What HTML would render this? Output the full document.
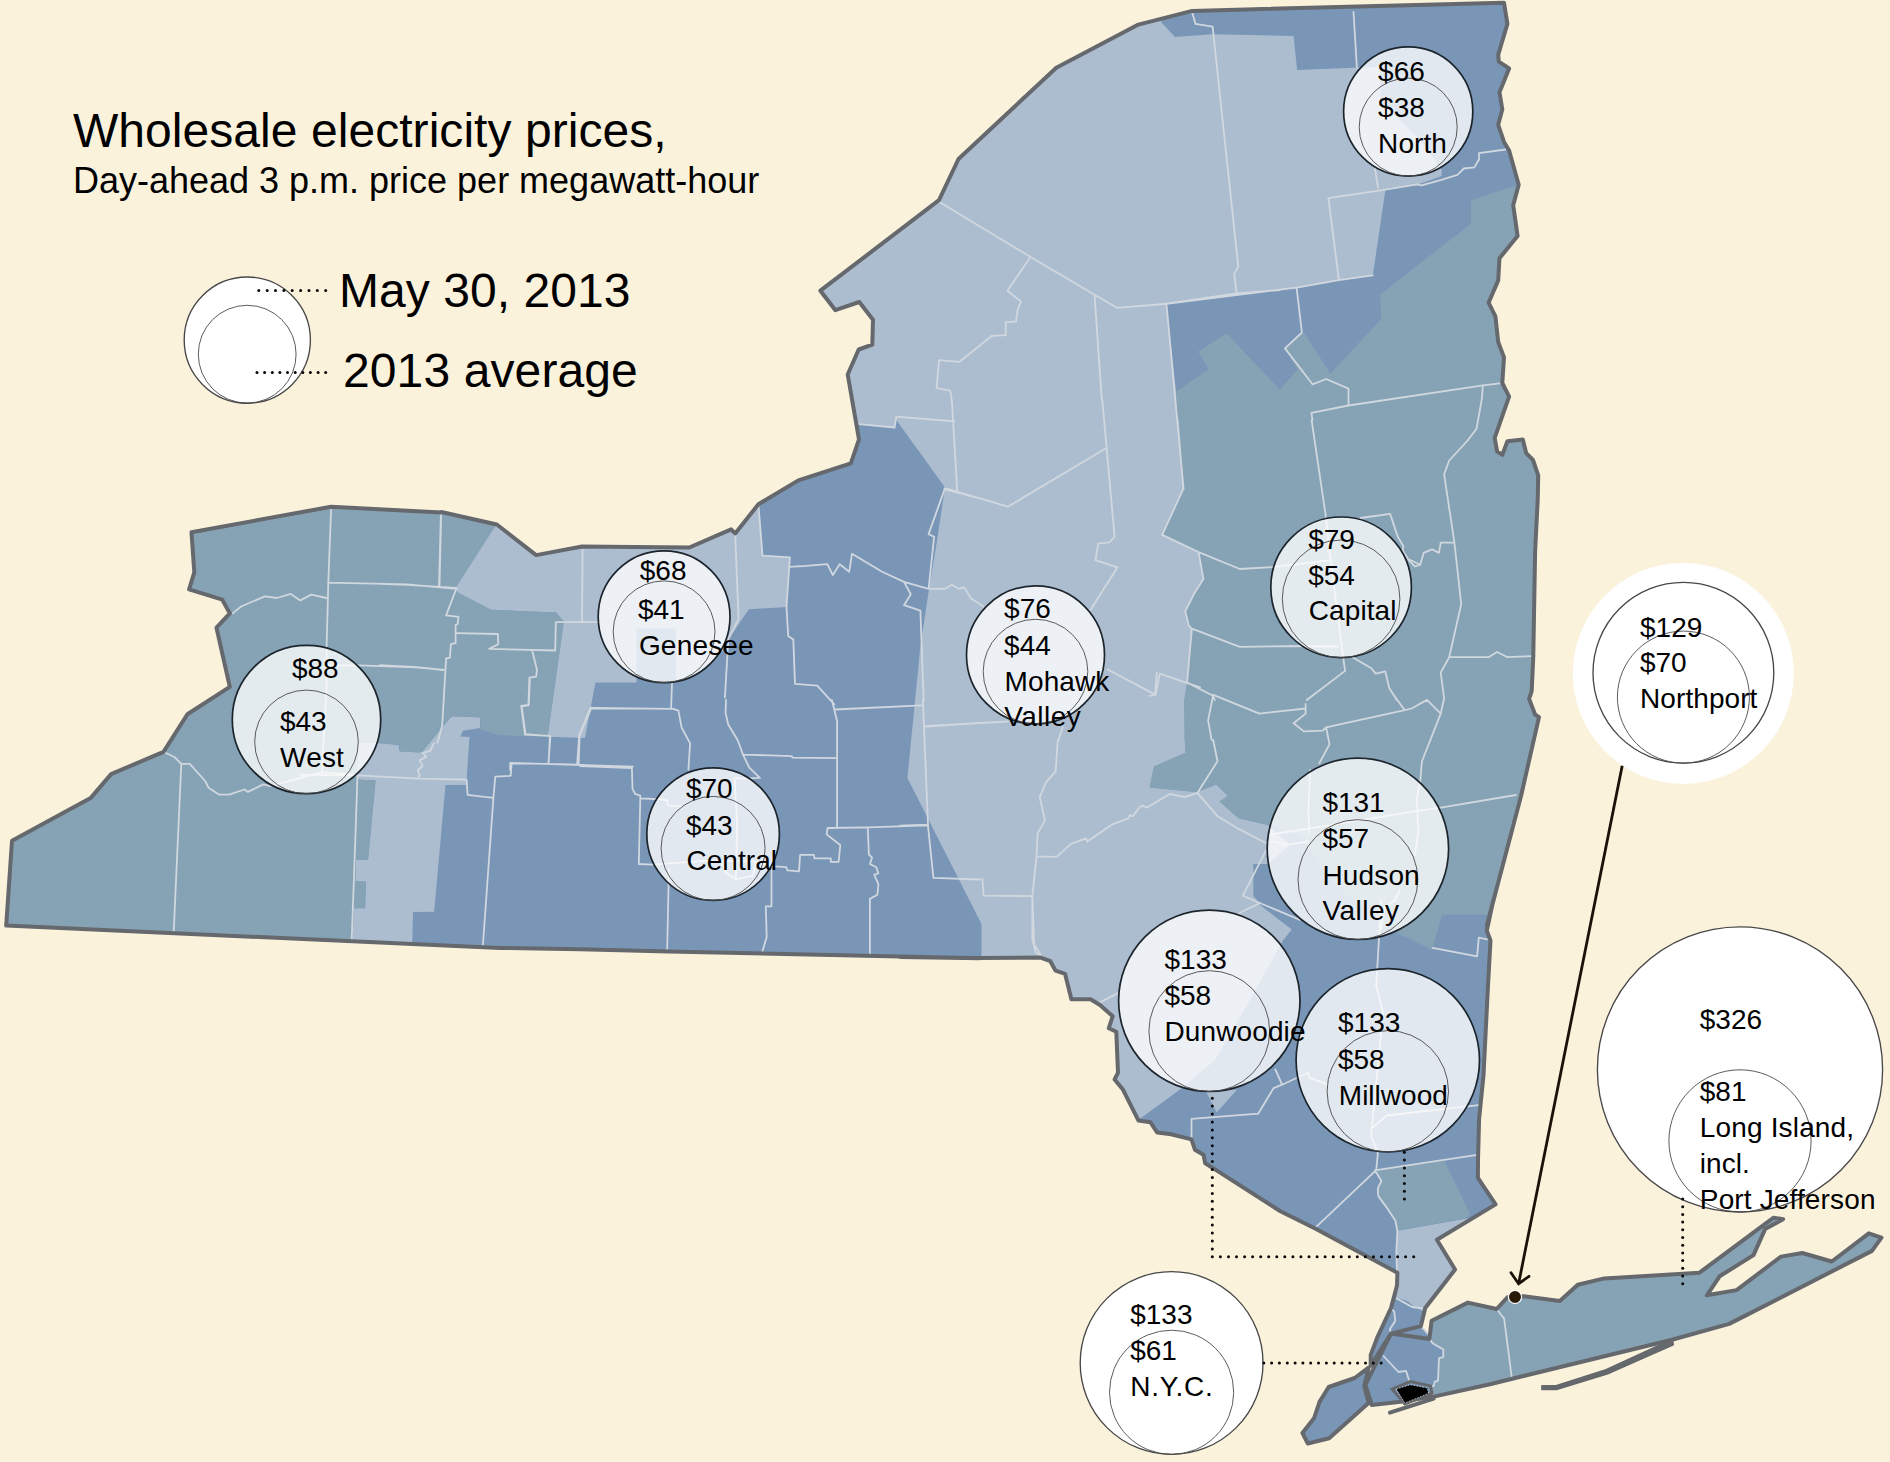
<!DOCTYPE html>
<html lang="en"><head><meta charset="utf-8"><title>Wholesale electricity prices</title>
<style>
html,body{margin:0;padding:0;background:#fbf2dc;overflow:hidden;}
body{width:1890px;height:1462px;overflow:hidden;}
svg{display:block;}
text{font-family:"Liberation Sans",Arial,Helvetica,sans-serif;fill:#000;}
.lb{font-size:28px;}
.cty{fill:none;stroke:#d0d7df;stroke-width:1.8;stroke-linejoin:round;stroke-linecap:round;}
.out{fill:none;stroke:#65686c;stroke-width:4;stroke-linejoin:round;}
.co{fill:#fff;fill-opacity:.78;stroke:#1c242c;stroke-width:1.7;}
.ci{fill:none;stroke:#4a4a4a;stroke-width:.9;}
.cw{fill:#fff;stroke:#484848;stroke-width:1.35;}
.d{fill:#0a0a0a;}
</style></head><body>
<svg width="1890" height="1462" viewBox="0 0 1890 1462">
<rect width="1890" height="1462" fill="#fbf2dc"/>
<defs>
<clipPath id="cm"><path d="M6.2 925.6 L12 840.8 L90.6 798.1 L111.1 774.1 L163.5 751.9 L187.4 714.3 L229.8 686.9 L216.5 627.7 L229.8 613.4 L222.3 599.7 L189.1 589.4 L194.3 572.3 L191.5 532.3 L331.1 506.7 L441.2 512.5 L441.3 512 L496.8 524.5 L536.1 555.1 L582 546.5 L689.3 547.5 L731.1 529.3 L735.2 533.4 L758.4 504.3 L798.4 480.4 L850.8 463.3 L859 439.3 L847.7 374.5 L858.7 349.5 L872.3 344.7 L873 319.8 L859.3 302 L835.4 310.2 L820.4 290.7 L939 200.1 L958.5 159 L1056.3 67.7 L1138.4 24.6 L1192.1 10.9 L1504 2.7 L1507.4 23.9 L1498.2 54.7 L1498.8 61.6 L1509.1 68.4 L1499.5 92.3 L1502.3 109.4 L1498.2 124.8 L1504 141.9 L1509.1 150.5 L1518.7 184.7 L1513.2 205.2 L1517.6 236 L1499.5 258.2 L1498.2 280.4 L1488.6 302.7 L1495.4 316.3 L1498.2 342 L1504 357.4 L1502.3 383 L1509.1 396.7 L1494.7 437.8 L1497.1 451.4 L1502.3 454.9 L1507.4 441.2 L1522.8 439.5 L1526.2 453.1 L1533 460 L1538.2 475.4 L1537.7 500 L1535.1 552 L1533.3 656 L1531.7 691.1 L1529.1 698.9 L1535.1 714.5 L1539 717.1 L1521.1 795.7 L1486.9 925.6 L1493.4 900 L1486.8 930.7 L1490.5 940.5 L1487.9 987.6 L1483.5 1075.2 L1479.1 1119 L1478 1160 L1477.9 1177.8 L1495.6 1204.4 L1436.9 1239.7 L1455.1 1269.5 L1425.2 1308 L1420.9 1326.1 L1391 1333.6 L1370.7 1365.6 L1370.7 1354.9 L1377.1 1337.9 L1391 1308 L1397 1285.6 L1397.4 1272.7 L1314.2 1227.9 L1314.6 1228.3 L1280.4 1211.2 L1218.9 1171.9 L1205.2 1163.3 L1203.5 1154.8 L1194.9 1149.7 L1191.5 1139.4 L1171 1134.3 L1157.3 1132.6 L1150.5 1122.3 L1138.5 1120.6 L1128.2 1100.1 L1123.1 1089.8 L1114.6 1079.5 L1118 1072.7 L1116.3 1031.7 L1108.8 1028.2 L1112.7 1016.2 L1100 1005 L1090.5 999.3 L1071.4 999.3 L1065.1 973.9 L1055.6 970.7 L1050.3 961.2 L1040.7 957.6 L976.2 958 L900 956.9 L980 958.2 L668.9 951.4 L580 949.3 L500 947.9Z"/></clipPath>
<clipPath id="cl"><path d="M1391 1333.6 L1429.4 1338.9 L1431.6 1320.8 L1467.9 1302.6 L1496.7 1309 L1507.4 1297.3 L1523.4 1296.2 L1559.8 1301.1 L1577.8 1284.8 L1604.3 1278.4 L1699.5 1272.7 L1773.6 1217.7 L1783.1 1219.2 L1765.1 1229.1 L1753.5 1255.1 L1719.6 1276.3 L1706.9 1295.3 L1736.6 1290.1 L1781 1256.6 L1802.2 1253 L1831.8 1261.5 L1868.8 1233.3 L1881.5 1237.6 L1872 1250.9 L1729.2 1323.9 L1672 1339.8 L1490 1384.2 L1433.7 1396.6 L1398.5 1401.9 L1371.8 1405.1 L1365.4 1384.8Z"/></clipPath>
<clipPath id="call"><path d="M6.2 925.6 L12 840.8 L90.6 798.1 L111.1 774.1 L163.5 751.9 L187.4 714.3 L229.8 686.9 L216.5 627.7 L229.8 613.4 L222.3 599.7 L189.1 589.4 L194.3 572.3 L191.5 532.3 L331.1 506.7 L441.2 512.5 L441.3 512 L496.8 524.5 L536.1 555.1 L582 546.5 L689.3 547.5 L731.1 529.3 L735.2 533.4 L758.4 504.3 L798.4 480.4 L850.8 463.3 L859 439.3 L847.7 374.5 L858.7 349.5 L872.3 344.7 L873 319.8 L859.3 302 L835.4 310.2 L820.4 290.7 L939 200.1 L958.5 159 L1056.3 67.7 L1138.4 24.6 L1192.1 10.9 L1504 2.7 L1507.4 23.9 L1498.2 54.7 L1498.8 61.6 L1509.1 68.4 L1499.5 92.3 L1502.3 109.4 L1498.2 124.8 L1504 141.9 L1509.1 150.5 L1518.7 184.7 L1513.2 205.2 L1517.6 236 L1499.5 258.2 L1498.2 280.4 L1488.6 302.7 L1495.4 316.3 L1498.2 342 L1504 357.4 L1502.3 383 L1509.1 396.7 L1494.7 437.8 L1497.1 451.4 L1502.3 454.9 L1507.4 441.2 L1522.8 439.5 L1526.2 453.1 L1533 460 L1538.2 475.4 L1537.7 500 L1535.1 552 L1533.3 656 L1531.7 691.1 L1529.1 698.9 L1535.1 714.5 L1539 717.1 L1521.1 795.7 L1486.9 925.6 L1493.4 900 L1486.8 930.7 L1490.5 940.5 L1487.9 987.6 L1483.5 1075.2 L1479.1 1119 L1478 1160 L1477.9 1177.8 L1495.6 1204.4 L1436.9 1239.7 L1455.1 1269.5 L1425.2 1308 L1420.9 1326.1 L1391 1333.6 L1370.7 1365.6 L1370.7 1354.9 L1377.1 1337.9 L1391 1308 L1397 1285.6 L1397.4 1272.7 L1314.2 1227.9 L1314.6 1228.3 L1280.4 1211.2 L1218.9 1171.9 L1205.2 1163.3 L1203.5 1154.8 L1194.9 1149.7 L1191.5 1139.4 L1171 1134.3 L1157.3 1132.6 L1150.5 1122.3 L1138.5 1120.6 L1128.2 1100.1 L1123.1 1089.8 L1114.6 1079.5 L1118 1072.7 L1116.3 1031.7 L1108.8 1028.2 L1112.7 1016.2 L1100 1005 L1090.5 999.3 L1071.4 999.3 L1065.1 973.9 L1055.6 970.7 L1050.3 961.2 L1040.7 957.6 L976.2 958 L900 956.9 L980 958.2 L668.9 951.4 L580 949.3 L500 947.9Z M1391 1333.6 L1429.4 1338.9 L1431.6 1320.8 L1467.9 1302.6 L1496.7 1309 L1507.4 1297.3 L1523.4 1296.2 L1559.8 1301.1 L1577.8 1284.8 L1604.3 1278.4 L1699.5 1272.7 L1773.6 1217.7 L1783.1 1219.2 L1765.1 1229.1 L1753.5 1255.1 L1719.6 1276.3 L1706.9 1295.3 L1736.6 1290.1 L1781 1256.6 L1802.2 1253 L1831.8 1261.5 L1868.8 1233.3 L1881.5 1237.6 L1872 1250.9 L1729.2 1323.9 L1672 1339.8 L1490 1384.2 L1433.7 1396.6 L1398.5 1401.9 L1371.8 1405.1 L1365.4 1384.8Z M1368.6 1367.7 L1354.7 1378 L1328.7 1387 L1319.5 1401.9 L1314.2 1417.9 L1302.4 1432.9 L1307.8 1443.5 L1329.1 1438.2 L1368.6 1403 L1364.3 1385.9Z"/></clipPath>
</defs>
<path d="M6.2 925.6 L12 840.8 L90.6 798.1 L111.1 774.1 L163.5 751.9 L187.4 714.3 L229.8 686.9 L216.5 627.7 L229.8 613.4 L222.3 599.7 L189.1 589.4 L194.3 572.3 L191.5 532.3 L331.1 506.7 L441.2 512.5 L441.3 512 L496.8 524.5 L536.1 555.1 L582 546.5 L689.3 547.5 L731.1 529.3 L735.2 533.4 L758.4 504.3 L798.4 480.4 L850.8 463.3 L859 439.3 L847.7 374.5 L858.7 349.5 L872.3 344.7 L873 319.8 L859.3 302 L835.4 310.2 L820.4 290.7 L939 200.1 L958.5 159 L1056.3 67.7 L1138.4 24.6 L1192.1 10.9 L1504 2.7 L1507.4 23.9 L1498.2 54.7 L1498.8 61.6 L1509.1 68.4 L1499.5 92.3 L1502.3 109.4 L1498.2 124.8 L1504 141.9 L1509.1 150.5 L1518.7 184.7 L1513.2 205.2 L1517.6 236 L1499.5 258.2 L1498.2 280.4 L1488.6 302.7 L1495.4 316.3 L1498.2 342 L1504 357.4 L1502.3 383 L1509.1 396.7 L1494.7 437.8 L1497.1 451.4 L1502.3 454.9 L1507.4 441.2 L1522.8 439.5 L1526.2 453.1 L1533 460 L1538.2 475.4 L1537.7 500 L1535.1 552 L1533.3 656 L1531.7 691.1 L1529.1 698.9 L1535.1 714.5 L1539 717.1 L1521.1 795.7 L1486.9 925.6 L1493.4 900 L1486.8 930.7 L1490.5 940.5 L1487.9 987.6 L1483.5 1075.2 L1479.1 1119 L1478 1160 L1477.9 1177.8 L1495.6 1204.4 L1436.9 1239.7 L1455.1 1269.5 L1425.2 1308 L1420.9 1326.1 L1391 1333.6 L1370.7 1365.6 L1370.7 1354.9 L1377.1 1337.9 L1391 1308 L1397 1285.6 L1397.4 1272.7 L1314.2 1227.9 L1314.6 1228.3 L1280.4 1211.2 L1218.9 1171.9 L1205.2 1163.3 L1203.5 1154.8 L1194.9 1149.7 L1191.5 1139.4 L1171 1134.3 L1157.3 1132.6 L1150.5 1122.3 L1138.5 1120.6 L1128.2 1100.1 L1123.1 1089.8 L1114.6 1079.5 L1118 1072.7 L1116.3 1031.7 L1108.8 1028.2 L1112.7 1016.2 L1100 1005 L1090.5 999.3 L1071.4 999.3 L1065.1 973.9 L1055.6 970.7 L1050.3 961.2 L1040.7 957.6 L976.2 958 L900 956.9 L980 958.2 L668.9 951.4 L580 949.3 L500 947.9Z M1391 1333.6 L1429.4 1338.9 L1431.6 1320.8 L1467.9 1302.6 L1496.7 1309 L1507.4 1297.3 L1523.4 1296.2 L1559.8 1301.1 L1577.8 1284.8 L1604.3 1278.4 L1699.5 1272.7 L1773.6 1217.7 L1783.1 1219.2 L1765.1 1229.1 L1753.5 1255.1 L1719.6 1276.3 L1706.9 1295.3 L1736.6 1290.1 L1781 1256.6 L1802.2 1253 L1831.8 1261.5 L1868.8 1233.3 L1881.5 1237.6 L1872 1250.9 L1729.2 1323.9 L1672 1339.8 L1490 1384.2 L1433.7 1396.6 L1398.5 1401.9 L1371.8 1405.1 L1365.4 1384.8Z M1368.6 1367.7 L1354.7 1378 L1328.7 1387 L1319.5 1401.9 L1314.2 1417.9 L1302.4 1432.9 L1307.8 1443.5 L1329.1 1438.2 L1368.6 1403 L1364.3 1385.9Z" fill="#7996b7"/>
<g clip-path="url(#cm)">
<path d="M780 424 L780 -10 L1161 -10 L1161.3 22.2 L1175 36.9 L1212.6 34.2 L1293.6 35.9 L1297.1 70.1 L1355.2 67.7 L1380 67 L1380 100 L1420 140 L1441.6 169.5 L1441.6 175.9 L1417.2 184.8 L1385.5 189.6 L1372.8 275.3 L1338.9 280.2 L1296.6 288 L1166.5 303.9 L1176 391.7 L1177.6 420 L1183.3 488.9 L1162.2 534.9 L1198.6 552.1 L1203.4 578.9 L1193.8 594.3 L1185.2 611.5 L1189 625.9 L1191.9 628.7 L1187.1 682.4 L1184.3 700 L1184.7 740 L1185.7 752.7 L1154 766.5 L1149.7 787.6 L1196.3 791.9 L1200.5 790.8 L1216.4 784.4 L1228 796.1 L1219.6 801.4 L1238.6 818.3 L1267.2 824.7 L1290 845 L1268 864 L1253.3 864.1 L1253.3 893.8 L1253.3 895.4 L1261 905.7 L1291.8 929.6 L1283.3 939.9 L1250 1000 L1215 1060 L1182.4 1087.8 L1141.3 1117.7 L1100 1125 L1000 1000 L981.5 975 L981.5 924.1 L907.4 778.1 L920.4 646.2 L928.6 591.5 L936.8 542.3 L945 487.6 L895.8 419.2 L894.4 427.4 L860.2 424.6Z" fill="#adbdd0"/>
<path d="M497 505 L760 495 L758.4 504.3 L762.5 555.6 L789.9 557.3 L786.5 606.9 L748.8 609.3 L728.3 639.4 L721.6 653 L700 670 L676 682.5 L676 628.5 L636.6 628.5 L636.6 682.5 L633.7 682.5 L595.4 682.5 L584.9 738 L547.6 736.7 L563.8 621.8 L556.2 612.6 L491.1 609.7 L457.6 592.5 L455.6 587.7 L494.9 526.4Z" fill="#adbdd0"/>
<path d="M379.5 743.2 L398.6 745.1 L399.6 751.2 L419.7 752.4 L440.8 726 L452.2 716.4 L480 717.3 L480 727.9 L462.8 730.7 L460.5 736.5 L469.5 737.1 L466.6 779.6 L466.6 784.9 L445.5 784.9 L434.1 911.7 L413 912.1 L412 951.9 L351.7 951.9 L354 908.3 L365.1 908.3 L366.1 881.7 L355.2 881.1 L355.9 860 L368 860 L375.6 780.5 L357.8 779.6 L357.5 775.8 L357.5 742.5Z" fill="#adbdd0"/>
<path d="M1397.4 1230.7 L1470 1217.9 L1493.5 1235.4 L1472.1 1286.6 L1425.2 1312.2 L1414.5 1306.9 L1408.1 1301.6 L1396.3 1297.3 L1397.4 1272.7 L1396.3 1252.5Z" fill="#adbdd0"/>
<path d="M1206.3 1092.1 L1237.1 1089.5 L1216.6 1112.6Z" fill="#adbdd0"/>
<path d="M-20 470 L500 470 L494.9 526.4 L455.6 587.7 L457.6 592.5 L491.1 609.7 L556.2 612.6 L563.8 621.8 L547.6 736.7 L498.7 735.1 L480.5 729.4 L480.5 717.5 L451.8 716 L422.1 752.4 L400.1 751.4 L399.2 744.7 L380 742.8 L357.5 742.5 L357.5 775.8 L357.8 779.6 L375.6 780.5 L368 860 L355.9 860 L355.2 881.1 L366.1 881.7 L365.1 908.3 L354 908.3 L351.7 951.9 L-20 1000Z" fill="#86a3b5"/>
<path d="M1560 185 L1515.7 185.4 L1471.2 200.2 L1471.2 223.5 L1380.2 294.4 L1381.3 318.7 L1330.5 373.8 L1305.1 334.6 L1301.9 332.5 L1285 348.4 L1297.7 369.5 L1279.7 389.6 L1226.8 333.5 L1198.2 351.5 L1208.8 369.5 L1176 391.7 L1177.6 420 L1183.3 488.9 L1162.2 534.9 L1198.6 552.1 L1203.4 578.9 L1193.8 594.3 L1185.2 611.5 L1189 625.9 L1191.9 628.7 L1187.1 682.4 L1184.3 700 L1184.7 740 L1185.7 752.7 L1154 766.5 L1149.7 787.6 L1196.3 791.9 L1200.5 790.8 L1216.4 784.4 L1228 796.1 L1219.6 801.4 L1238.6 818.3 L1267.2 824.7 L1300 835 L1330 880 L1396.4 932.7 L1432 949.6 L1442.1 914.4 L1487.8 914.4 L1560 914Z" fill="#86a3b5"/>
<path d="M1375 1170.3 L1444.4 1160.7 L1470 1214 L1465.7 1218.3 L1397.4 1230.7 L1395.3 1220.4 L1386.7 1207.6 L1378.2 1195.9 L1377.8 1188.4 L1381.4 1181Z" fill="#86a3b5"/>
</g>
<g clip-path="url(#cl)">
<path d="M1429.4 1338.9 L1432.6 1343.2 L1443.3 1349.6 L1443.3 1357.1 L1439 1358.1 L1438 1380.6 L1434.8 1381.6 L1433.7 1385.9 L1430.5 1387 L1433.7 1396.6 L1433.7 1416.8 L1890 1440 L1890 1150 L1520 1200 L1445 1295 L1431.6 1320.8Z" fill="#86a3b5"/>
</g>
<g clip-path="url(#call)" class="cty">
<path d="M331.1 509.1 L328.3 582.6 L326.6 647.6 M328.3 582.6 L407 584.3 L456.6 588.8 M441.2 514.2 L439.5 586 M232.6 613.4 L241.1 606.5 L265 596.3 L277 598 L290.7 593.9 L300.3 600.4 L311.2 594.6 L326.6 598 M326.9 665.4 L359.1 665.4 L415.5 667.4 L444.6 669.8 M163.5 751.9 L174.4 757 L181.3 763.9 L189.8 763.9 L205.2 781 L208.6 787.8 L218.9 794.6 L229.1 794.6 L244.5 789.5 L247.9 791.9 L263.3 784.4 L270.2 786.1 L321.5 772.4 L355.7 774.8 M181.3 763.9 L173.7 932.1 M326.6 647.6 L326.5 691.6 L323.4 740.8 L322.2 771.6 M300 774.8 L357.5 775.4 L418.7 778.6 L466.6 779.6 L467.6 794.9 L493.4 797.8 L495.3 776.7 L510.7 775.8 L511.6 763.3 L549 763.9 L578.6 764.6 L620 767.1 M357.5 775.4 L354.6 860 L351.7 940.4 M493.4 797.8 L482.9 945.2 M434.1 743.2 L430.2 750.9 L422.6 752.8 L426.4 756.6 L419.7 760.4 L422.6 766.2 L417.8 770 L419.7 775.8 L417.8 778.6 M529.8 680 L528.8 704.9 L521.2 705.9 L525 734.6 L549.9 735.9 L548.6 763.9 M578.6 764.6 L579.6 735.5 L591.1 708.7 L620 708.3 M440.9 513 L439 586.7 M380 583.8 L407.8 584.8 L456.6 588 L446.1 615.4 L458.5 616.8 L457.6 624.1 L455.6 625 L455.6 643.2 L450.9 644.2 L449.9 657.6 L446.1 658.5 L442.2 725.5 L437.5 742.8 M456.6 633.2 L497.8 634 L498.3 644.2 L489.2 648.9 L555.2 650.5 L555.8 622.1 L582 622.1 L599.3 622.1 M582.6 549.4 L582 622.1 M380 665.2 L417.3 667.1 L443.2 670 M532.2 650.5 L537 670 L536.1 676.7 L529.4 677.7 L528.4 705.4 L521.7 706.4 L525.5 734.2 L550.4 736.1 L548.5 762.9 M672 683.4 L671.1 708.3 M579.2 735.1 L590.7 707.4 M579.2 735.1 L577.2 763.8 M510.2 770 L510.2 762.9 L632.8 766.7 M735.2 535.1 L738.6 618.9 L728.3 639.4 L724.9 697.5 M758.4 504.3 L762.5 555.6 L789.9 557.3 L786.5 606.9 L788.2 636 L793.3 639.4 L795 683.9 L817.2 685.6 L834.3 704.4 M789.9 566.9 L800.1 566.2 M939 201.8 L1029.7 256.5 L1094.6 294.8 L1116.9 307.8 L1166.5 303.7 L1236.6 293.4 L1280 290 M1192.1 12 L1195.5 23.9 L1212.6 26.7 L1238.3 266.8 L1234.2 273.6 L1236.6 293.4 M1029.7 258.2 L1007.4 290.7 L1021.1 301.6 L1017.7 309.5 L1016 321.5 L1005.7 322.2 L1005.7 335.2 L992 335.8 L959.5 361.8 L939 360.1 L936.6 388.2 L950.3 390.6 L951.7 400.1 M859.3 424.1 L894.6 427.5 L896.3 416.6 L954.4 421.3 M1094.6 295.8 L1101.8 400.1 M1166.5 304.4 L1183.6 489.1 M944.2 489.1 L985.2 500 M1353.5 12 L1356.9 67.7 M1140 306 L1166.5 303.9 L1296.6 287.6 L1338.9 280.2 L1372.8 275.3 M1328.4 198.1 L1385.5 189.6 L1417.2 184.3 L1421.5 185.4 L1440.5 180.1 L1457.5 174.8 L1463.8 168.5 L1474.4 167.4 L1478.6 160 M1479 160.1 L1479 153.2 L1505.7 149.5 M1328.4 198.1 L1338.9 280.2 M1378.1 187.5 L1374.9 168.5 M1296.6 287.6 L1301.9 332.5 L1285 348.4 L1312.5 384.3 L1326.2 379 L1348.5 388.6 L1348.5 405.5 M1311.4 412.9 L1348.5 405.5 L1482.9 385.4 L1499.8 383.3 M1311.4 412.9 L1312.5 419.9 M1482.9 385.4 L1481.8 399.2 L1476.5 428.8 L1468 440 M1311.6 420 L1326 517.7 M1343.2 657.5 L1345.1 670.9 L1306.8 700 M1162.2 534.9 L1198.6 552.1 L1239.8 569 L1272.4 567.1 L1328.8 560.3 M1191.9 628.7 L1239.8 646.9 L1301.1 646 L1338.6 646.5 M1360.4 518 L1390.1 513.8 L1395.9 531.1 L1397.8 536.8 L1403.5 546.4 L1402.6 550.2 L1409.3 560.8 L1415 566.5 L1420 564.6 M1352.8 657.5 L1371 668 L1375.8 673.7 L1385.3 671.3 L1389.2 688.1 L1396.8 700 M1187.1 682.4 L1213 695.8 L1214.9 700 M1468.1 440 L1449.2 460.5 L1444.1 474.2 L1454.4 542.6 L1440.7 542.6 L1439 552.9 L1432.1 549.4 L1423.6 552.9 L1420.2 564.8 L1409.9 559.7 M1454.4 542.6 L1461.2 604.2 L1449.2 657.2 L1440.7 672.6 L1444.1 698.2 L1440.7 713.6 L1421.9 761.5 L1420.2 782 M1449.2 657.2 L1488.6 657.2 L1497.1 652 L1507.4 657.2 L1531.3 656.1 M1440.7 713.6 L1427 699.9 L1411.6 708.5 L1404.8 710.2 L1392.8 693.8 M1404.8 710.2 L1326.1 727.3 L1329.5 744.4 L1319.3 763.2 M1326.1 727.3 L1322.7 730.7 L1303.9 731.4 L1293.6 723.2 L1305.6 713.6 L1305.6 704 M1213.3 694.8 L1259.4 713.6 L1305.6 708.5 M1213.3 694.8 L1208.1 720.4 L1211.6 739.9 M1156.8 672.6 L1155.1 694.8 L1150 695.8 M1440.7 807.6 L1515.9 795 M800 566.3 L827.4 564.2 L832.8 575.1 L839.7 564.2 L849.2 571.8 L852 553.8 L882.1 571.8 L904 581.9 L928.6 588.8 L945 588.8 L951.8 584.7 L958.7 588.8 L964.2 587.4 L971 598.4 L983.3 606.6 M904 581.9 L910.8 594.3 L904 605.2 L920.4 610.7 L923.7 701 M945 488.1 L928.6 534.1 L934.1 536.8 L928.6 588.8 M951.8 400 L957.3 491.7 M945 488.1 L1007.9 506.7 L1105.1 448.7 M1102.3 400 L1114.6 536.8 L1109.2 542.3 L1098.2 543.6 L1095.5 560.1 L1117.4 567.4 L1090 610.7 M1107.8 669.5 L1155.7 694.9 L1159.8 673.6 L1200 687.3 M924.5 726.1 L1007.9 721.5 M1062.7 726.9 L1058.5 740.6 M591.6 708 L673.1 708.9 L678.4 710.6 L681.6 727.5 L690.1 743.4 L688.4 769.8 M580 766 L631.9 768.1 L632.5 788.9 L635.4 794.2 L640.3 795.7 L640.3 798.4 L654.1 799 M640.3 798.4 L638.8 864 L653 864.7 M668.9 869.3 L667.2 949.3 M726 700 L725.6 712.7 L728.1 724.3 L737.7 740.2 L743 754.6 L749.3 767.7 L759.9 777.9 L747.2 778.3 M743 754.6 L791.6 756.1 L792.7 757.6 L836.1 758.2 M831.9 700 L834 708.5 L837.1 721.2 L837.1 827 M835 709.5 L921.8 705.3 M922.9 700 L928.1 827 L933.4 877.8 L980 879.5 M926 726.5 L980 722.9 M827.6 828 L867.8 827.4 L928.1 825.3 M827.6 828 L826.6 834.4 L840.3 845 L838.6 861.9 L830.8 861.9 L830.8 858.3 L814.5 858.3 L813.9 854.9 L800.1 854.9 L799 871.4 L787.4 870.4 L786.3 867.2 L771.5 866.1 M771.5 869.3 L771.5 906.3 L765.8 906.3 L766.7 937 L762.4 951.4 M867.8 828 L868.9 854.5 L872.1 857.7 L869.9 864 L876.3 867.2 L878.4 873.5 L874.2 874.6 L878.4 884.1 L877.4 894.7 L869.9 898.9 L869.9 954 M982.5 878.6 L983.6 895.6 L1032.3 896.2 M900 825.7 L927.5 824.7 M1057.7 740 L1055.6 771.7 L1046 782.3 L1039.7 797.1 L1045 820.4 L1037.6 833.1 L1036.5 856.4 L1032.3 896.6 L1032.3 938.9 L1035.4 951.6 L1040.7 957.6 M1036.5 856.4 L1056.6 856.8 L1071.4 843.7 L1086.2 838.4 L1087.3 841.6 L1111.6 824.7 L1128.6 818.3 L1129.6 815.1 L1132.8 816.2 L1139.2 807.7 L1142.3 805.6 L1146.6 807.7 L1169.8 794 L1184.7 797.1 L1197.4 792.9 L1217.5 761.2 L1213.2 740 M1197.4 792.9 L1217.5 816.2 L1238.6 828.9 L1267.2 843.7 M1266.1 850.1 L1242.9 895.6 L1259.8 903 L1247.1 909.3 L1238.6 913.5 M1259.8 903 L1300 919.9 M1100 1002.4 L1120.1 991.9 M1032.5 900 L1034.2 944.5 L1042.7 958.1 M1381.3 900 L1376.2 985.5 L1383 1012.9 L1371.1 1136 L1377.9 1153.1 L1376.2 1170.2 M1432.6 947.9 L1477.1 956.4 L1478.8 937.6 L1487.3 939.3 M1376.2 1170.2 L1477.1 1154.8 M1376.2 1170.2 L1314.6 1228.3 M1375 1170.3 L1381.4 1181 L1377.8 1188.4 L1378.2 1195.9 L1386.7 1207.6 L1395.3 1220.4 L1397.4 1230.7 L1396.3 1252.5 L1397 1271.7 M1191.5 1139.4 L1191.5 1118.9 L1258.2 1113.7 L1273.6 1088.1 L1282.1 1084.7 L1307.8 1072.7 L1309.5 1077.8 L1328.3 1084.7 M1282.1 1084.7 L1275.3 1069.3 M1371.1 1129.1 L1386.5 1115.5 L1478.8 1105.2 M1396.7 1298.4 L1412.1 1307 L1424.1 1308.7 M1391 1333.6 L1389.9 1329.3 L1395.3 1320.8 L1394.2 1311.2 L1391 1309 M1429.4 1338.9 L1432.6 1343.2 L1443.3 1349.6 L1443.3 1357.1 L1439 1358.1 L1438 1380.6 L1434.8 1381.6 L1433.7 1385.9 L1430.5 1387 L1433.7 1396.6 M1383.5 1356 L1398.5 1372 L1406 1370.9 L1410.2 1383.8 M1496.7 1309 L1504.1 1318.6 L1511.6 1376.3 M1177.6 420 L1183.3 488.9 L1162.2 534.9 M1198.6 552.1 L1203.4 578.9 L1193.8 594.3 L1185.2 611.5 L1189 625.9 L1191.9 628.7 L1187.1 682.4 M1326 517.7 L1329.8 554.1 L1343.2 657.5 M1440.4 807.7 L1417.6 810.8 L1308.4 828.6 L1271.1 834.5 M1310.1 770.2 L1308.4 810.8 L1309.2 832.8 M1420.1 782 L1416.7 798.9 L1418.4 831.1 L1415 854.8 M1399.8 890.4 L1394.7 900.5 L1384.6 907.3 L1381.2 929.3 M1271.1 841.3 L1288 844.7 L1308.4 841.3 M653 864.7 L703.9 860.8 L753 861.4 L771.5 866.1 M747.2 778.3 L734.7 778.3 L737.1 823.9 L735.9 879.3 M721 861 L726 873.1 L735.9 879.3 L753.1 875.6 L756 862 M654 799 L660.8 799.2 L666.9 800.5 L668.2 805.4 L681.7 806.6"/>
</g>
<path d="M1391 1333.6 L1420.9 1326.1 L1423.5 1328.3 L1429.9 1336.2 L1429.4 1338.9Z" fill="#7996b7"/>
<path class="cty" d="M1421.3 1326.8 L1423.5 1328.9 L1429.9 1336.2"/>
<path class="out" d="M6.2 925.6 L12 840.8 L90.6 798.1 L111.1 774.1 L163.5 751.9 L187.4 714.3 L229.8 686.9 L216.5 627.7 L229.8 613.4 L222.3 599.7 L189.1 589.4 L194.3 572.3 L191.5 532.3 L331.1 506.7 L441.2 512.5 L441.3 512 L496.8 524.5 L536.1 555.1 L582 546.5 L689.3 547.5 L731.1 529.3 L735.2 533.4 L758.4 504.3 L798.4 480.4 L850.8 463.3 L859 439.3 L847.7 374.5 L858.7 349.5 L872.3 344.7 L873 319.8 L859.3 302 L835.4 310.2 L820.4 290.7 L939 200.1 L958.5 159 L1056.3 67.7 L1138.4 24.6 L1192.1 10.9 L1504 2.7 L1507.4 23.9 L1498.2 54.7 L1498.8 61.6 L1509.1 68.4 L1499.5 92.3 L1502.3 109.4 L1498.2 124.8 L1504 141.9 L1509.1 150.5 L1518.7 184.7 L1513.2 205.2 L1517.6 236 L1499.5 258.2 L1498.2 280.4 L1488.6 302.7 L1495.4 316.3 L1498.2 342 L1504 357.4 L1502.3 383 L1509.1 396.7 L1494.7 437.8 L1497.1 451.4 L1502.3 454.9 L1507.4 441.2 L1522.8 439.5 L1526.2 453.1 L1533 460 L1538.2 475.4 L1537.7 500 L1535.1 552 L1533.3 656 L1531.7 691.1 L1529.1 698.9 L1535.1 714.5 L1539 717.1 L1521.1 795.7 L1486.9 925.6 L1493.4 900 L1486.8 930.7 L1490.5 940.5 L1487.9 987.6 L1483.5 1075.2 L1479.1 1119 L1478 1160 L1477.9 1177.8 L1495.6 1204.4 L1436.9 1239.7 L1455.1 1269.5 L1425.2 1308 L1420.9 1326.1 L1391 1333.6 L1370.7 1365.6 L1370.7 1354.9 L1377.1 1337.9 L1391 1308 L1397 1285.6 L1397.4 1272.7 L1314.2 1227.9 L1314.6 1228.3 L1280.4 1211.2 L1218.9 1171.9 L1205.2 1163.3 L1203.5 1154.8 L1194.9 1149.7 L1191.5 1139.4 L1171 1134.3 L1157.3 1132.6 L1150.5 1122.3 L1138.5 1120.6 L1128.2 1100.1 L1123.1 1089.8 L1114.6 1079.5 L1118 1072.7 L1116.3 1031.7 L1108.8 1028.2 L1112.7 1016.2 L1100 1005 L1090.5 999.3 L1071.4 999.3 L1065.1 973.9 L1055.6 970.7 L1050.3 961.2 L1040.7 957.6 L976.2 958 L900 956.9 L980 958.2 L668.9 951.4 L580 949.3 L500 947.9Z M1391 1333.6 L1429.4 1338.9 L1431.6 1320.8 L1467.9 1302.6 L1496.7 1309 L1507.4 1297.3 L1523.4 1296.2 L1559.8 1301.1 L1577.8 1284.8 L1604.3 1278.4 L1699.5 1272.7 L1773.6 1217.7 L1783.1 1219.2 L1765.1 1229.1 L1753.5 1255.1 L1719.6 1276.3 L1706.9 1295.3 L1736.6 1290.1 L1781 1256.6 L1802.2 1253 L1831.8 1261.5 L1868.8 1233.3 L1881.5 1237.6 L1872 1250.9 L1729.2 1323.9 L1672 1339.8 L1490 1384.2 L1433.7 1396.6 L1398.5 1401.9 L1371.8 1405.1 L1365.4 1384.8Z M1368.6 1367.7 L1354.7 1378 L1328.7 1387 L1319.5 1401.9 L1314.2 1417.9 L1302.4 1432.9 L1307.8 1443.5 L1329.1 1438.2 L1368.6 1403 L1364.3 1385.9Z"/>
<path class="out" style="stroke-linecap:round" d="M1389.9 1412.6 L1433.7 1398.7"/>
<path d="M1541.9 1385.7 L1556 1385.7 L1606 1369.8 L1672.4 1339.2 L1673.3 1344.7 L1607.7 1373.9 L1556.5 1389.5 L1541.9 1389.5Z" fill="#65686c" stroke="#65686c" stroke-width="1.5" stroke-linejoin="round"/>
<path d="M1392.1 1389.1 L1410.2 1381.6 L1430.5 1385.9 L1432 1393.4 L1404.9 1404Z" fill="#7996b7" stroke="#65686c" stroke-width="3"/>
<path d="M1396.3 1389.1 L1410.2 1384.8 L1427.3 1388 L1428.4 1393.4 L1404.9 1403Z" fill="#000" stroke="#fff" stroke-width=".6" stroke-dasharray="1.5 1.5"/>
<circle cx="1683.3" cy="673.4" r="110.5" fill="#fff"/>
<path d="M1622.2 765.7 L1518.6 1283.7" stroke="#1a1208" stroke-width="2.8" fill="none"/>
<path d="M1511 1272.7 L1518.6 1283.7 L1529 1276.3" stroke="#1a1208" stroke-width="2.8" fill="none" stroke-linecap="round"/>
<circle cx="1515" cy="1297" r="6.6" fill="#2a1a08" stroke="#fff" stroke-width="1.2"/>
<circle class="co" cx="1408.2" cy="111.5" r="64.6"/><circle class="ci" cx="1408.2" cy="127.1" r="49.0"/>
<circle class="co" cx="306.5" cy="719.5" r="74.2"/><circle class="ci" cx="306.5" cy="741.9" r="51.8"/>
<circle class="co" cx="664.1" cy="616.8" r="65.9"/><circle class="ci" cx="664.1" cy="631.8" r="50.9"/>
<circle class="co" cx="713.1" cy="834.1" r="66.3"/><circle class="ci" cx="713.1" cy="848.4" r="52.0"/>
<circle class="co" cx="1035.5" cy="654.9" r="69.0"/><circle class="ci" cx="1035.5" cy="671.6" r="52.3"/>
<circle class="co" cx="1341.1" cy="587.3" r="70.3"/><circle class="ci" cx="1341.1" cy="598.8" r="58.8"/>
<circle class="co" cx="1357.9" cy="848.8" r="90.7"/><circle class="ci" cx="1357.9" cy="879.6" r="59.9"/>
<circle class="co" cx="1209.3" cy="1000.8" r="90.7"/><circle class="ci" cx="1209.3" cy="1031.1" r="60.4"/>
<circle class="co" cx="1387.8" cy="1060.3" r="91.7"/><circle class="ci" cx="1387.8" cy="1091.3" r="60.7"/>
<circle class="cw" cx="1171.6" cy="1363.0" r="91.4"/><circle class="ci" cx="1171.6" cy="1392.3" r="62.1"/>
<circle class="cw" cx="1683.4" cy="672.7" r="90.4"/><circle class="ci" cx="1683.4" cy="697.1" r="66.0"/>
<circle class="cw" cx="1740" cy="1069.4" r="142.6"/><circle class="ci" cx="1740" cy="1140.9" r="71.1"/>
<circle class="cw" cx="247.3" cy="340.1" r="63.1"/><circle class="ci" cx="247.2" cy="354.2" r="48.9"/>
<circle class="d" cx="258.8" cy="290.5" r="1.5"/><circle class="d" cx="267.2" cy="290.5" r="1.5"/><circle class="d" cx="275.5" cy="290.5" r="1.5"/><circle class="d" cx="283.9" cy="290.5" r="1.5"/><circle class="d" cx="292.2" cy="290.5" r="1.5"/><circle class="d" cx="300.6" cy="290.5" r="1.5"/><circle class="d" cx="309.0" cy="290.5" r="1.5"/><circle class="d" cx="317.3" cy="290.5" r="1.5"/><circle class="d" cx="325.7" cy="290.5" r="1.5"/>
<circle class="d" cx="257.0" cy="372.4" r="1.5"/><circle class="d" cx="264.6" cy="372.4" r="1.5"/><circle class="d" cx="272.3" cy="372.4" r="1.5"/><circle class="d" cx="279.9" cy="372.4" r="1.5"/><circle class="d" cx="287.5" cy="372.4" r="1.5"/><circle class="d" cx="295.2" cy="372.4" r="1.5"/><circle class="d" cx="302.8" cy="372.4" r="1.5"/><circle class="d" cx="310.4" cy="372.4" r="1.5"/><circle class="d" cx="318.1" cy="372.4" r="1.5"/><circle class="d" cx="325.7" cy="372.4" r="1.5"/>
<circle class="d" cx="1212.3" cy="1098.2" r="1.5"/><circle class="d" cx="1212.3" cy="1106.1" r="1.5"/><circle class="d" cx="1212.3" cy="1114.1" r="1.5"/><circle class="d" cx="1212.3" cy="1122.0" r="1.5"/><circle class="d" cx="1212.3" cy="1129.9" r="1.5"/><circle class="d" cx="1212.3" cy="1137.8" r="1.5"/><circle class="d" cx="1212.3" cy="1145.8" r="1.5"/><circle class="d" cx="1212.3" cy="1153.7" r="1.5"/><circle class="d" cx="1212.3" cy="1161.6" r="1.5"/><circle class="d" cx="1212.3" cy="1169.6" r="1.5"/><circle class="d" cx="1212.3" cy="1177.5" r="1.5"/><circle class="d" cx="1212.3" cy="1185.4" r="1.5"/><circle class="d" cx="1212.3" cy="1193.4" r="1.5"/><circle class="d" cx="1212.3" cy="1201.3" r="1.5"/><circle class="d" cx="1212.3" cy="1209.2" r="1.5"/><circle class="d" cx="1212.3" cy="1217.2" r="1.5"/><circle class="d" cx="1212.3" cy="1225.1" r="1.5"/><circle class="d" cx="1212.3" cy="1233.0" r="1.5"/><circle class="d" cx="1212.3" cy="1240.9" r="1.5"/><circle class="d" cx="1212.3" cy="1248.9" r="1.5"/><circle class="d" cx="1212.3" cy="1256.8" r="1.5"/>
<circle class="d" cx="1220.4" cy="1256.8" r="1.5"/><circle class="d" cx="1228.5" cy="1256.8" r="1.5"/><circle class="d" cx="1236.5" cy="1256.8" r="1.5"/><circle class="d" cx="1244.6" cy="1256.8" r="1.5"/><circle class="d" cx="1252.6" cy="1256.8" r="1.5"/><circle class="d" cx="1260.7" cy="1256.8" r="1.5"/><circle class="d" cx="1268.7" cy="1256.8" r="1.5"/><circle class="d" cx="1276.8" cy="1256.8" r="1.5"/><circle class="d" cx="1284.8" cy="1256.8" r="1.5"/><circle class="d" cx="1292.9" cy="1256.8" r="1.5"/><circle class="d" cx="1300.9" cy="1256.8" r="1.5"/><circle class="d" cx="1309.0" cy="1256.8" r="1.5"/><circle class="d" cx="1317.1" cy="1256.8" r="1.5"/><circle class="d" cx="1325.1" cy="1256.8" r="1.5"/><circle class="d" cx="1333.2" cy="1256.8" r="1.5"/><circle class="d" cx="1341.2" cy="1256.8" r="1.5"/><circle class="d" cx="1349.3" cy="1256.8" r="1.5"/><circle class="d" cx="1357.3" cy="1256.8" r="1.5"/><circle class="d" cx="1365.4" cy="1256.8" r="1.5"/><circle class="d" cx="1373.4" cy="1256.8" r="1.5"/><circle class="d" cx="1381.5" cy="1256.8" r="1.5"/><circle class="d" cx="1389.5" cy="1256.8" r="1.5"/><circle class="d" cx="1397.6" cy="1256.8" r="1.5"/><circle class="d" cx="1405.6" cy="1256.8" r="1.5"/><circle class="d" cx="1413.7" cy="1256.8" r="1.5"/>
<circle class="d" cx="1404.4" cy="1152.3" r="1.5"/><circle class="d" cx="1404.4" cy="1160.1" r="1.5"/><circle class="d" cx="1404.4" cy="1167.9" r="1.5"/><circle class="d" cx="1404.4" cy="1175.7" r="1.5"/><circle class="d" cx="1404.4" cy="1183.4" r="1.5"/><circle class="d" cx="1404.4" cy="1191.2" r="1.5"/><circle class="d" cx="1404.4" cy="1199.0" r="1.5"/>
<circle class="d" cx="1263.8" cy="1362.9" r="1.5"/><circle class="d" cx="1271.6" cy="1362.9" r="1.5"/><circle class="d" cx="1279.4" cy="1362.9" r="1.5"/><circle class="d" cx="1287.3" cy="1362.9" r="1.5"/><circle class="d" cx="1295.1" cy="1362.9" r="1.5"/><circle class="d" cx="1302.9" cy="1362.9" r="1.5"/><circle class="d" cx="1310.7" cy="1362.9" r="1.5"/><circle class="d" cx="1318.5" cy="1362.9" r="1.5"/><circle class="d" cx="1326.4" cy="1362.9" r="1.5"/><circle class="d" cx="1334.2" cy="1362.9" r="1.5"/><circle class="d" cx="1342.0" cy="1362.9" r="1.5"/><circle class="d" cx="1349.8" cy="1362.9" r="1.5"/><circle class="d" cx="1357.6" cy="1362.9" r="1.5"/><circle class="d" cx="1365.5" cy="1362.9" r="1.5"/><circle class="d" cx="1373.3" cy="1362.9" r="1.5"/><circle class="d" cx="1381.1" cy="1362.9" r="1.5"/>
<circle class="d" cx="1682.7" cy="1199.0" r="1.5"/><circle class="d" cx="1682.7" cy="1206.7" r="1.5"/><circle class="d" cx="1682.7" cy="1214.4" r="1.5"/><circle class="d" cx="1682.7" cy="1222.1" r="1.5"/><circle class="d" cx="1682.7" cy="1229.8" r="1.5"/><circle class="d" cx="1682.7" cy="1237.5" r="1.5"/><circle class="d" cx="1682.7" cy="1245.2" r="1.5"/><circle class="d" cx="1682.7" cy="1252.9" r="1.5"/><circle class="d" cx="1682.7" cy="1260.6" r="1.5"/><circle class="d" cx="1682.7" cy="1268.3" r="1.5"/><circle class="d" cx="1682.7" cy="1276.0" r="1.5"/><circle class="d" cx="1682.7" cy="1283.7" r="1.5"/>
<text class="lb" x="1378.1" y="81" textLength="46.7">$66</text><text class="lb" x="1378.1" y="117" textLength="46.7">$38</text><text class="lb" x="1378.1" y="153" textLength="68.7">North</text>
<text class="lb" x="292" y="678.4" textLength="46.7">$88</text><text class="lb" x="280" y="730.7" textLength="46.7">$43</text><text class="lb" x="280" y="766.6" textLength="63.9">West</text>
<text class="lb" x="639.8" y="580.3" textLength="46.7">$68</text><text class="lb" x="638" y="618.6" textLength="46.7">$41</text><text class="lb" x="638.9" y="654.5" textLength="114.8">Genesee</text>
<text class="lb" x="685.9" y="798.1" textLength="46.7">$70</text><text class="lb" x="685.9" y="834.6" textLength="46.7">$43</text><text class="lb" x="686.4" y="870" textLength="90.6">Central</text>
<text class="lb" x="1004.1" y="618.2" textLength="46.7">$76</text><text class="lb" x="1004.1" y="654.8" textLength="46.7">$44</text><text class="lb" x="1004.6" y="690.5" textLength="104.6">Mohawk</text><text class="lb" x="1004.2" y="726.3" textLength="76.6">Valley</text>
<text class="lb" x="1308.2" y="548.6" textLength="46.7">$79</text><text class="lb" x="1308.2" y="584.6" textLength="46.7">$54</text><text class="lb" x="1308.8" y="620.1" textLength="87.6">Capital</text>
<text class="lb" x="1322.4" y="812.2" textLength="62.3">$131</text><text class="lb" x="1322.4" y="848" textLength="46.7">$57</text><text class="lb" x="1322.4" y="884.5" textLength="97.3">Hudson</text><text class="lb" x="1322.4" y="920" textLength="76.6">Valley</text>
<text class="lb" x="1164.5" y="968.6" textLength="62.3">$133</text><text class="lb" x="1164.5" y="1004.5" textLength="46.7">$58</text><text class="lb" x="1164.5" y="1040.8" textLength="141.0">Dunwoodie</text>
<text class="lb" x="1338" y="1032" textLength="62.3">$133</text><text class="lb" x="1338" y="1068.5" textLength="46.7">$58</text><text class="lb" x="1338.8" y="1104.6" textLength="109.0">Millwood</text>
<text class="lb" x="1130.2" y="1324" textLength="62.3">$133</text><text class="lb" x="1130.2" y="1360" textLength="46.7">$61</text><text class="lb" x="1130.2" y="1395.9" textLength="82.7">N.Y.C.</text>
<text class="lb" x="1640" y="636.5" textLength="62.3">$129</text><text class="lb" x="1640" y="672.4" textLength="46.7">$70</text><text class="lb" x="1640" y="708" textLength="117.4">Northport</text>
<text class="lb" x="1699.8" y="1028.7" textLength="62.3">$326</text><text class="lb" x="1699.8" y="1100.7" textLength="46.7">$81</text><text class="lb" x="1699.8" y="1136.6" textLength="154.3">Long Island,</text><text class="lb" x="1699.8" y="1172.5" textLength="49.9">incl.</text><text class="lb" x="1699.8" y="1208.9" textLength="175.7">Port Jefferson</text>
<text x="73" y="147" style="font-size:48px" textLength="593.6">Wholesale electricity prices,</text>
<text x="73" y="192.5" style="font-size:36px" textLength="686.2">Day-ahead 3 p.m. price per megawatt-hour</text>
<text x="339" y="306.5" style="font-size:48px" textLength="291.4">May 30, 2013</text>
<text x="343" y="387" style="font-size:48px" textLength="294.8">2013 average</text>
</svg></body></html>
